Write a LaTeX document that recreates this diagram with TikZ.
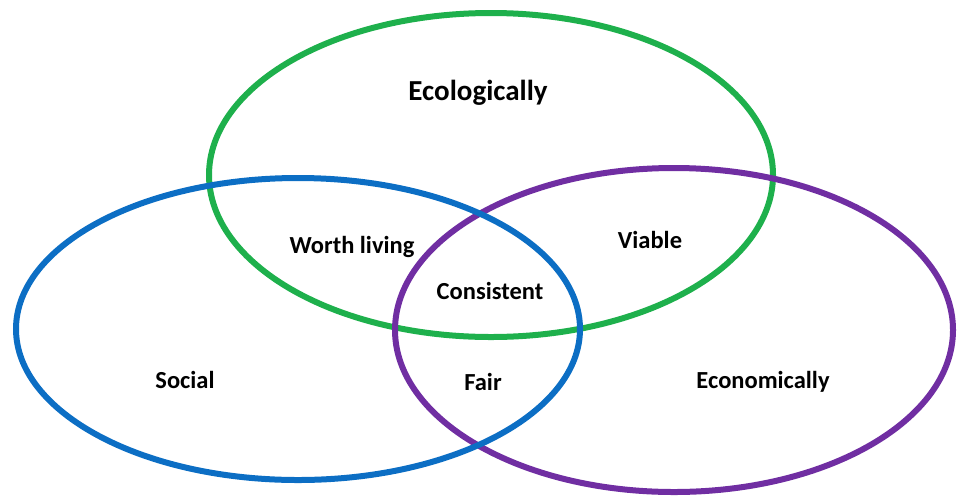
\documentclass[tikz,border=0pt]{standalone}
\usepackage{fontspec}
\setmainfont{Carlito}
\definecolor{ringgreen}{RGB}{30,176,76}
\definecolor{ringblue}{RGB}{12,110,196}
\definecolor{ringpurple}{RGB}{112,46,162}
\begin{document}
\begin{tikzpicture}[
		x = 1pt, y = -1pt,
		ring/.style = { line width = 6pt },
		label/.style = { font = \fontsize{24.5}{29}\selectfont\bfseries },
		biglabel/.style = { font = \fontsize{29}{34}\selectfont\bfseries }
	]
	\useasboundingbox (0,0) rectangle (957,499);
	% the three circles, green below, blue on top
	\draw [ring, ringgreen] (491,175) ellipse [x radius = 282, y radius = 162];
	\draw [ring, ringpurple] (674,330) ellipse [x radius = 279, y radius = 162];
	\draw [ring, ringblue] (298,329) ellipse [x radius = 282, y radius = 151];
	% labels
	\node [biglabel] (eco) at (478,93) { Ecologically };
	\node [label] (worth) at (352,247) { Worth living };
	\node [label] (viable) at (650,240) { Viable };
	\node [label] (consistent) at (490,291) { Consistent };
	\node [label] (social) at (185,380) { Social };
	\node [label] (fair) at (483,382) { Fair };
	\node [label] (econ) at (763,382) { Economically };
\end{tikzpicture}
\end{document}
